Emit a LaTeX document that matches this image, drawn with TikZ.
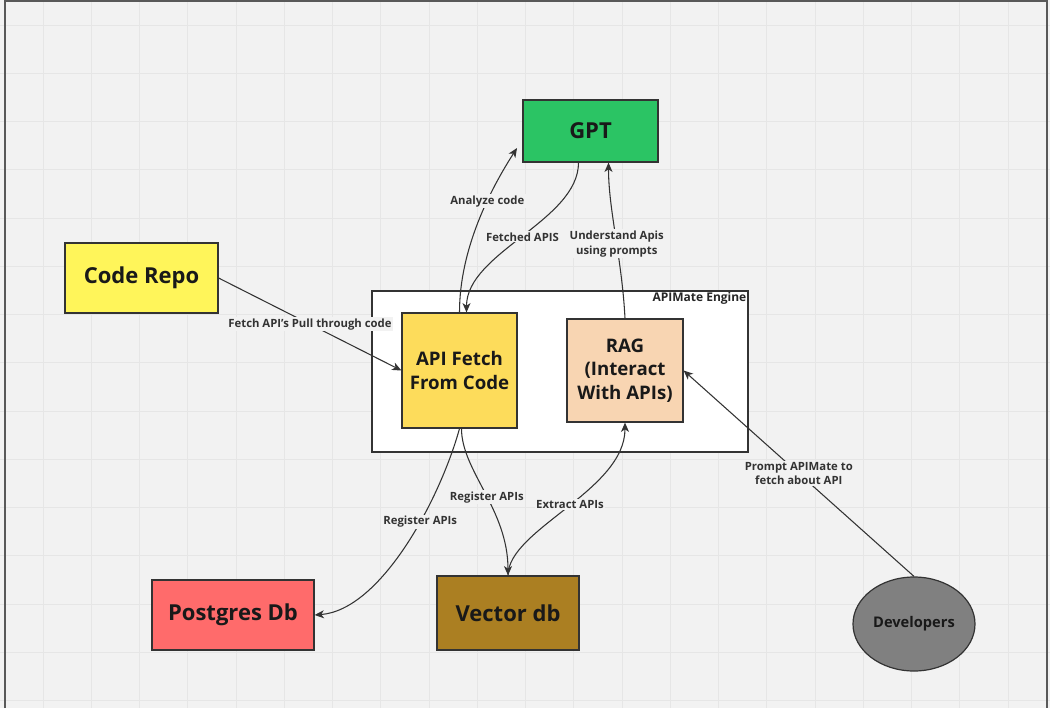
\documentclass[tikz,border=0pt]{standalone}
\usepackage{fontspec}
\setmainfont{Open Sans}
\usetikzlibrary{arrows.meta,calc,shapes.geometric}

\definecolor{bgcol}{HTML}{F2F2F2}
\definecolor{gridcol}{HTML}{E6E6E6}
\definecolor{edgecol}{HTML}{333333}
\definecolor{gptcol}{HTML}{2BC464}
\definecolor{repocol}{HTML}{FFF55A}
\definecolor{fetchcol}{HTML}{FDDC5B}
\definecolor{ragcol}{HTML}{F8D5B2}
\definecolor{pgcol}{HTML}{FF6B6B}
\definecolor{veccol}{HTML}{AB7F22}
\definecolor{devcol}{HTML}{808080}

\tikzset{
  box/.style={draw=edgecol, line width=0.9pt, inner sep=0pt, text=black!90,
              font=\bfseries\fontsize{16.5}{19}\selectfont, align=center},
  midbox/.style={box, font=\bfseries\fontsize{14}{17.5}\selectfont},
  conn/.style={draw=edgecol, line width=0.8pt, -{Stealth[length=7pt,width=6pt,inset=2pt]}},
  elabel/.style={fill=bgcol, text=edgecol, inner sep=1pt, align=center,
                 font=\bfseries\fontsize{8.5}{11}\selectfont}
}

\begin{document}
\begin{tikzpicture}[x=0.75pt,y=-0.75pt]
  % canvas
  \useasboundingbox (0,0) rectangle (1050,708);
  \fill[bgcol] (0,0) rectangle (1050,708);
  \foreach \gx in {43,91.25,...,1050} \draw[gridcol, line width=0.75pt] (\gx,0) -- (\gx,708);
  \foreach \gy in {25,73.25,...,708} \draw[gridcol, line width=0.75pt] (0,\gy) -- (1050,\gy);
  \draw[black!65, line width=1.5pt] (5,708) -- (5,1) -- (1047,1) -- (1047,708);

  % engine frame
  \node[draw=edgecol, fill=white, line width=0.9pt, minimum width=282pt, minimum height=120.75pt] (engine) at (560,371.5) {};
  \node[anchor=north east, inner sep=1.5pt, text=black!85, font=\bfseries\fontsize{9}{11}\selectfont] (enginelbl) at (engine.north east) {APIMate Engine};

  % nodes
  \node[box, fill=gptcol, minimum width=101.25pt, minimum height=46.5pt] (gpt) at (590.5,131) {GPT};
  \node[box, fill=repocol, minimum width=114.75pt, minimum height=52.5pt] (repo) at (141.5,278) {Code Repo};
  \node[midbox, fill=fetchcol, minimum width=86.25pt, minimum height=86.25pt] (fetch) at (459.5,370.5) {API Fetch\\From Code};
  \node[midbox, fill=ragcol, minimum width=87pt, minimum height=77.25pt] (rag) at (625,370.5) {RAG\\(Interact\\With APIs)};
  \node[box, fill=pgcol, minimum width=121.5pt, minimum height=52.5pt] (pg) at (233,615) {Postgres Db};
  \node[box, fill=veccol, minimum width=106.5pt, minimum height=55.5pt] (vec) at (508,613) {Vector db};
  \node[box, ellipse, fill=devcol, font=\bfseries\fontsize{11}{13}\selectfont, minimum width=91.5pt, minimum height=70.5pt] (dev) at (914,624) {Developers};
  \coordinate (gptin) at (517,148);

  % connectors
  \draw[conn] (fetch.north) .. controls +(0,-63) and +(-27,42) .. (gptin)
    node[elabel, pos=0.63] (lanalyze) {Analyze code};
  \draw[conn] ($(gpt.south)+(-12,0)$) .. controls +(0,58) and +(0,-60) .. ($(fetch.north)+(7,0)$)
    node[elabel, pos=0.5] (lfetched) {Fetched APIS};
  \draw[conn] (rag.north) .. controls +(-3,-59) and +(0,47) .. ($(gpt.south)+(18,0)$)
    node[elabel, pos=0.45] (lunderstand) {Understand Apis\\using prompts};
  \draw[conn] (repo.east) -- (fetch.west)
    node[elabel, pos=0.5] (lpull) {Fetch API's Pull through code};
  \draw[conn] (fetch.south) .. controls +(-20,72) and +(66,-5) .. (pg.east)
    node[elabel, pos=0.39] (lregpg) {Register APIs};
  \draw[conn] ($(fetch.south)+(2,0)$) .. controls +(0,42) and +(0,-66) .. (vec.north)
    node[elabel, pos=0.53] (lregvec) {Register APIs};
  \draw[conn] (vec.north) .. controls +(0,-46) and +(0,68) .. (rag.south)
    node[elabel, pos=0.52] (lextract) {Extract APIs};
  \draw[conn] (dev.north) -- (rag.east)
    node[elabel, pos=0.5] (lprompt) {Prompt APIMate to\\fetch about API};
\end{tikzpicture}
\end{document}
